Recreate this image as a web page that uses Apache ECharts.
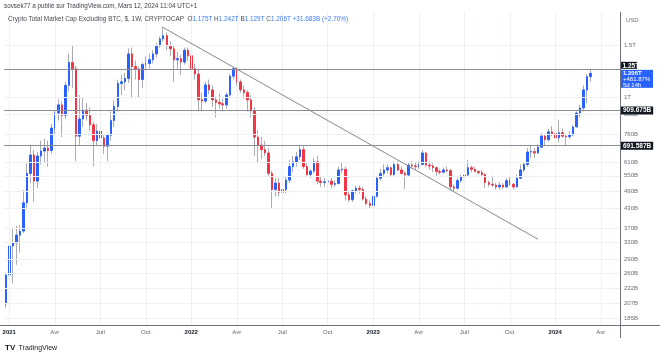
<!DOCTYPE html>
<html>
<head>
<meta charset="utf-8">
<title>Crypto Total Market Cap Excluding BTC</title>
<script src="https://cdn.jsdelivr.net/npm/echarts@6/dist/echarts.min.js"></script>
<style>
html,body{margin:0;padding:0;background:#ffffff;}
#chart{width:660px;height:355px;}
</style>
</head>
<body>
<div id="chart"></div>
<script>
// ---------------- data (values in billions USD, weekly bars) ----------------
const firstWeek = '2020-12-28';
const weekSlots = 176; // 168 bars + empty weeks to the right edge

const opens = [
  206,257,321,329,349,360,447,560,645,528,
  640,665,680,668,793,890,947,875,1100,1310,
  1250,745,850,910,875,813,720,775,735,690,
  750,840,935,1115,1130,1160,1400,1270,1245,1150,
  1290,1300,1340,1400,1490,1570,1610,1490,1455,1337,
  1350,1315,1440,1380,1250,1200,985,975,1104,1062,
  984,965,955,947,1022,1180,1250,1130,1062,1040,
  984,905,740,696,672,655,560,495,520,485,
  495,532,590,612,636,672,590,555,570,612,
  528,522,525,528,515,518,575,578,475,458,
  490,500,495,460,445,438,470,540,560,575,
  585,555,600,575,560,553,597,593,590,600,
  655,597,593,585,568,565,575,572,505,500,
  530,545,553,585,578,568,563,555,522,515,
  512,505,512,505,530,515,505,540,575,600,
  660,662,655,685,746,725,770,760,735,765,
  745,742,752,800,890,925,1062,1175
];
const highs = [
  262,363,369,374,377,493,605,696,670,660,
  720,730,720,820,910,990,975,1130,1400,1490,
  1280,1020,1000,960,930,830,820,810,750,760,
  900,980,1150,1190,1210,1460,1470,1330,1270,1310,
  1370,1400,1440,1520,1600,1720,1650,1540,1500,1420,
  1390,1470,1470,1410,1300,1250,1040,1130,1150,1100,
  1010,1030,990,1040,1200,1265,1265,1150,1100,1060,
  1020,930,780,740,720,680,570,540,540,510,
  545,620,640,660,692,690,610,580,630,640,
  545,540,545,540,530,590,612,590,490,495,
  510,510,505,470,455,475,545,580,600,600,
  590,615,615,590,570,610,615,610,615,670,
  660,615,605,590,580,585,590,580,515,540,
  555,560,621,595,590,575,575,560,530,550,
  520,525,520,540,545,520,555,600,610,680,
  690,680,700,765,760,790,805,790,845,790,
  760,775,810,900,945,1100,1200,1242
];
const lows = [
  200,234,241,278,305,355,430,520,450,500,
  600,610,590,650,760,840,740,850,1050,1080,
  615,690,800,840,780,592,690,700,650,615,
  720,800,900,1020,1060,1120,1000,1150,1000,1080,
  1230,1250,1300,1360,1470,1540,1440,1380,1130,1250,
  1190,1290,1330,1180,1150,910,910,960,1030,930,
  860,920,900,920,1010,1150,1100,1040,990,900,
  860,640,610,625,640,545,430,470,470,465,
  480,520,565,590,620,580,545,540,560,515,
  505,505,515,500,505,515,560,455,450,450,
  480,480,455,440,430,435,465,530,550,560,
  545,550,570,555,497,545,580,575,580,595,
  590,575,565,550,555,560,565,490,485,495,
  520,535,545,565,565,555,550,500,505,505,
  495,495,498,500,510,495,500,535,565,590,
  630,630,650,680,690,715,745,690,710,735,
  695,730,745,795,860,900,960,1129
];
const closes = [
  257,321,329,349,360,447,560,645,528,640,
  665,680,668,793,890,947,875,1100,1310,1250,
  745,850,910,875,813,720,775,735,690,750,
  840,935,1115,1130,1160,1400,1270,1245,1150,1290,
  1300,1340,1400,1490,1570,1610,1490,1455,1337,1350,
  1315,1440,1380,1250,1200,985,975,1104,1062,984,
  965,955,947,1022,1180,1250,1130,1062,1040,984,
  905,740,696,672,655,560,495,520,485,495,
  532,590,612,636,672,590,555,570,612,528,
  522,525,528,515,518,575,578,475,458,490,
  500,495,460,445,438,470,540,560,575,585,
  555,600,575,560,553,597,593,590,600,655,
  597,593,585,568,565,575,572,505,500,530,
  545,553,585,578,568,563,555,522,515,512,
  505,512,505,530,515,505,540,575,600,660,
  662,655,685,746,725,770,760,735,765,745,
  742,752,800,890,925,1062,1175,1206
];

const priceTicks = [1500, 1000, 880, 760, 610, 550, 490, 430, 370, 330, 290, 260, 232, 207, 185];
const priceTickLabels = ['1.5T','1T','880B','760B','610B','550B','490B','430B','370B','330B','290B','260B','232B','207B','185B'];
const levelValues = [1250, 909.675, 691.587];
const levelLabels = ['1.25T', '909.675B', '691.587B'];
const trendWeeks = [44.8, 152.1];
const trendValues = [1718, 338];
const lastPrice = 1206;
const lastPriceLines = ['1.206T', '+481.87%', '5d 14h'];
const quarterNames = {4: 'Avr', 7: 'Juil', 10: 'Oct'};
const headerText = 'sovsek77 a publié sur TradingView.com, Mars 12, 2024 11:04 UTC+1';
const legendTitle = 'Crypto Total Market Cap Excluding BTC, $, 1W, CRYPTOCAP';
const legendValues = [['O','1.175T'],['H','1.242T'],['B','1.129T'],['C','1.206T']];
const legendChange = '+31.683B (+2.70%)';
const yRange = [175.2, 1930];

// ---------------- build ----------------
const FONT = '"Liberation Sans", Arial, sans-serif';
const UP = '#2962ff', DOWN = '#f23645', WICK = '#a9acb4', GRIDC = '#eef0f4';
const LEVEL = '#8a8d96', AXIS = '#6f727c', LABEL = '#6a6d78';
const gridBox = {left: 4, right: 40, top: 12, bottom: 30};
const ln = Math.log;

const weeks = [];
const t0 = Date.parse(firstWeek + 'T00:00:00Z');
for (let i = 0; i < weekSlots; i++) weeks.push(new Date(t0 + i * 7 * 86400000).toISOString().slice(0, 10));
const monthOf = s => +s.slice(5, 7);
const isQuarterStart = i => i > 0 && monthOf(weeks[i]) !== monthOf(weeks[i - 1]) && (monthOf(weeks[i]) - 1) % 3 === 0;
const quarterIdx = weeks.map((w, i) => i).filter(isQuarterStart);

const bodies = opens.map((o, i) => {
  const c = closes[i];
  return [ln(o), ln(c), ln(Math.min(o, c)), ln(Math.max(o, c))];
});
const wicks = opens.map((o, i) => [ln(o), ln(o), ln(lows[i]), ln(highs[i])]);

const chart = echarts.init(document.getElementById('chart'), null, {renderer: 'canvas'});

const option = {
  animation: false,
  backgroundColor: '#ffffff',
  textStyle: {fontFamily: FONT},
  grid: Object.assign({containLabel: false, outerBoundsMode: 'none'}, gridBox),
  xAxis: [
    {
      type: 'category', data: weeks, boundaryGap: true,
      axisLine: {show: false}, axisTick: {show: false}, splitLine: {show: false},
      axisLabel: {
        interval: (i) => isQuarterStart(i),
        formatter: (v) => {
          const m = monthOf(v);
          return m === 1 ? '{y|' + v.slice(0, 4) + '}' : quarterNames[m];
        },
        color: '#5d606b', fontSize: 6, margin: 4, fontFamily: FONT,
        rich: {y: {fontWeight: 'bold', color: '#131722', fontSize: 6, fontFamily: FONT}}
      }
    },
    {type: 'value', min: -0.5, max: weekSlots - 0.5, show: false}
  ],
  yAxis: {
    type: 'value', position: 'right', min: ln(yRange[0]), max: ln(yRange[1]),
    axisLine: {show: false}, axisTick: {show: false}, axisLabel: {show: false}, splitLine: {show: false}
  },
  series: [
    {
      name: 'grid', type: 'line', xAxisIndex: 1, data: [], silent: true, z: 1,
      markLine: {
        silent: true, symbol: ['none', 'none'], animation: false,
        lineStyle: {color: GRIDC, width: 1, type: 'solid'},
        label: {show: true, position: 'end', distance: 4, color: LABEL, fontSize: 6, fontFamily: FONT},
        emphasis: {disabled: true},
        data: priceTicks.map((v, k) => ({yAxis: ln(v), label: {formatter: priceTickLabels[k]}}))
          .concat(quarterIdx.map(i => ({xAxis: i, label: {show: false}})))
      }
    },
    {
      name: 'wick', type: 'candlestick', data: wicks, barWidth: 1, z: 2, silent: true,
      itemStyle: {color: WICK, color0: WICK, borderColor: WICK, borderColor0: WICK, borderColorDoji: WICK, borderWidth: 1}
    },
    {
      name: 'body', type: 'candlestick', data: bodies, barWidth: 2, z: 3, silent: true,
      itemStyle: {color: UP, color0: DOWN, borderColor: UP, borderColor0: DOWN, borderColorDoji: UP, borderWidth: 1}
    },
    {
      name: 'levels', type: 'line', xAxisIndex: 1, data: [], silent: true, z: 4,
      markLine: {
        silent: true, symbol: ['none', 'none'], animation: false,
        lineStyle: {color: LEVEL, width: 1, type: 'solid'},
        emphasis: {disabled: true},
        label: {show: true, position: 'end', distance: 1, color: '#ffffff', backgroundColor: '#131722',
                padding: [1, 2, 0, 2], fontSize: 6.5, fontWeight: 'bold', fontFamily: FONT},
        data: levelValues.map((v, k) => ({yAxis: ln(v), label: {show: k > 0, formatter: levelLabels[k]}}))
      }
    },
    {
      name: 'trend', type: 'line', xAxisIndex: 1, silent: true, z: 5,
      data: trendWeeks.map((x, k) => [x, ln(trendValues[k])]),
      symbol: 'none', lineStyle: {color: '#85888f', width: 1}
    }
  ]
};
chart.setOption(option);

// price-axis boxes placed through the y scale
const yLast = chart.convertToPixel({yAxisIndex: 0}, ln(lastPrice));
const boxTop = yLast - 3.5;
const plotBottom = 355 - gridBox.bottom;
const axisX = 660 - gridBox.right;

const legendRich = '{t|' + legendTitle + '}  ' +
  legendValues.map(p => '{k|' + p[0] + '}{v|' + p[1] + '}').join(' ') + ' {v|' + legendChange + '}';

chart.setOption({
  graphic: [
    {type: 'line', silent: true, shape: {x1: 0, y1: plotBottom + 0.5, x2: 660, y2: plotBottom + 0.5}, style: {stroke: AXIS, lineWidth: 1}, z: 10},
    {type: 'line', silent: true, shape: {x1: axisX + 0.5, y1: gridBox.top, x2: axisX + 0.5, y2: plotBottom + 13}, style: {stroke: AXIS, lineWidth: 1}, z: 10},
    {type: 'text', silent: true, x: 4, y: 3, style: {text: headerText, fontSize: 6.3, fontFamily: FONT, fill: '#3c3f47'}, z: 10},
    {type: 'text', silent: true, x: 8, y: 16.5, z: 10, style: {
      text: legendRich, fontFamily: FONT, fontSize: 6.4,
      rich: {
        t: {fill: '#4a4d56', fontSize: 6.4, fontFamily: FONT},
        k: {fill: '#4a4d56', fontSize: 6.4, fontFamily: FONT},
        v: {fill: '#3d7bff', fontSize: 6.4, fontFamily: FONT}
      }
    }},
    {type: 'text', silent: true, x: 626, y: 17, style: {text: 'USD', fontSize: 6, fontFamily: FONT, fill: LABEL}, z: 10},
    {type: 'group', x: axisX + 1, y: boxTop, z: 12, children: [
      {type: 'rect', shape: {x: 0, y: 0, width: 32, height: 18}, style: {fill: UP}, z: 12},
      {type: 'text', x: 2, y: 0.6, z: 13, style: {
        text: '{a|' + lastPriceLines[0] + '}\n{b|' + lastPriceLines[1] + '}\n{b|' + lastPriceLines[2] + '}',
        rich: {
          a: {fill: '#ffffff', fontSize: 6, fontWeight: 'bold', lineHeight: 5.8, fontFamily: FONT},
          b: {fill: '#ffffff', fontSize: 6, lineHeight: 5.8, fontFamily: FONT}
        }
      }}
    ]},
    {type: 'group', x: axisX + 1, y: boxTop - 8, z: 12, children: [
      {type: 'rect', shape: {x: 0, y: 0, width: 16, height: 7}, style: {fill: '#131722'}, z: 12},
      {type: 'text', x: 1.5, y: 0.6, z: 13, style: {text: levelLabels[0], fill: '#ffffff', fontSize: 6.5, fontWeight: 'bold', fontFamily: FONT}}
    ]},
    {type: 'text', silent: true, x: 5, y: 342, z: 10, style: {
      text: '{l|TV} {n|TradingView}',
      rich: {
        l: {fill: '#131722', fontSize: 8, fontWeight: 900, fontFamily: FONT},
        n: {fill: '#131722', fontSize: 7, fontFamily: FONT}
      }
    }}
  ]
});
</script>
</body>
</html>
